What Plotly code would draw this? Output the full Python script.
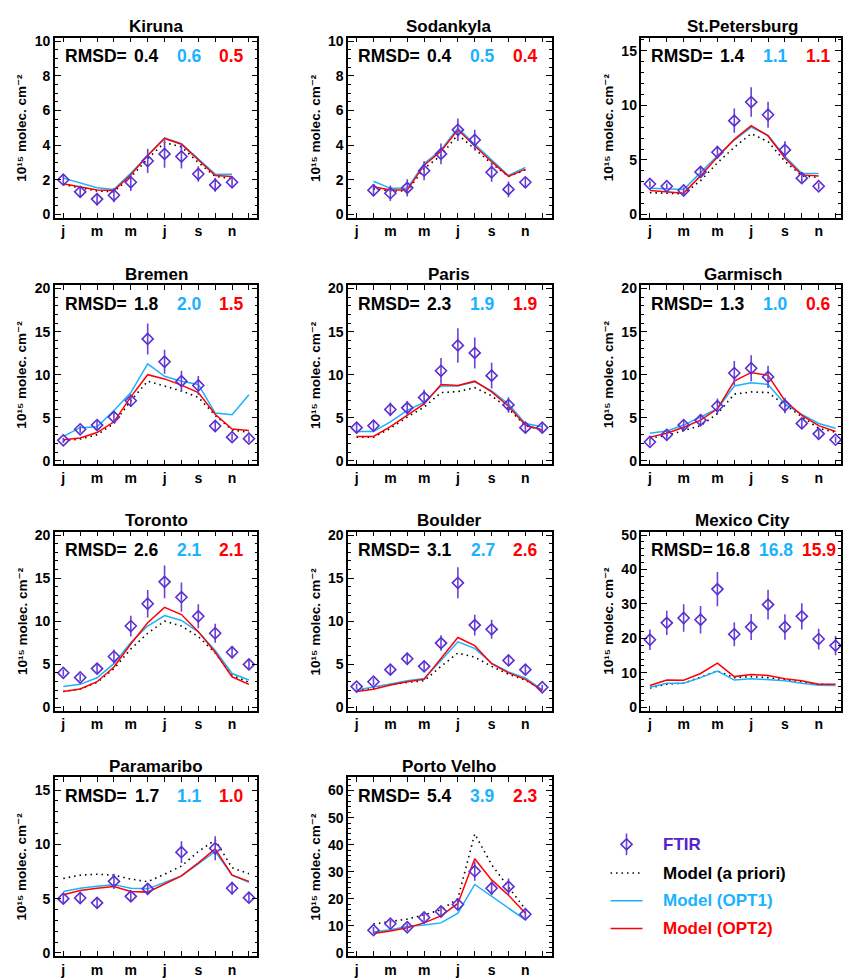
import plotly.graph_objects as go

# ---------------------------------------------------------------- data ----
months = list(range(1, 13))
label_months = [1, 3, 5, 7, 9, 11]
month_labels = ["j", "m", "m", "j", "s", "n"]

# Kiruna
kiruna_ftir = [2.0, 1.3, 0.88, 1.1, 1.85, 3.08, 3.49, 3.34, 2.33, 1.7, 1.85, None]
kiruna_err = [0.28, 0.33, 0.37, 0.4, 0.5, 0.7, 0.8, 0.7, 0.45, 0.4, 0.25, None]
kiruna_apriori = [1.72, 1.53, 1.35, 1.31, 2.15, 3.21, 4.14, 3.9, 2.99, 2.19, 2.06, None]
kiruna_opt1 = [2.09, 1.81, 1.53, 1.44, 2.37, 3.4, 4.42, 4.08, 3.19, 2.32, 2.32, None]
kiruna_opt2 = [1.76, 1.57, 1.4, 1.38, 2.28, 3.4, 4.38, 4.05, 3.15, 2.24, 2.19, None]
kiruna_rmsd = ["0.4", "0.6", "0.5"]

# Sodankyla
sodankyla_ftir = [None, 1.39, 1.22, 1.53, 2.52, 3.49, 4.88, 4.29, 2.43, 1.44, 1.85, None]
sodankyla_err = [None, 0.35, 0.45, 0.5, 0.55, 0.6, 0.65, 0.6, 0.55, 0.45, 0.3, None]
sodankyla_apriori = [None, 1.48, 1.35, 1.35, 2.65, 3.4, 4.6, 3.77, 2.93, 2.19, 2.56, None]
sodankyla_opt1 = [None, 1.91, 1.5, 1.5, 2.93, 3.71, 4.98, 4.05, 3.12, 2.24, 2.71, None]
sodankyla_opt2 = [None, 1.59, 1.4, 1.4, 2.84, 3.64, 4.88, 3.95, 3.04, 2.19, 2.61, None]
sodankyla_rmsd = ["0.4", "0.5", "0.4"]

# St.Petersburg
stpete_ftir = [2.8, 2.59, 2.2, 3.9, 5.71, 8.6, 10.3, 9.14, 5.92, 3.33, 2.59, None]
stpete_err = [0.3, 0.25, 0.3, 0.5, 0.6, 1.1, 1.35, 1.2, 0.8, 0.4, 0.3, None]
stpete_apriori = [2.0, 1.96, 1.9, 3.1, 4.73, 6.16, 7.41, 6.67, 4.88, 3.54, 3.39, None]
stpete_opt1 = [2.41, 2.35, 2.29, 3.84, 5.39, 6.82, 8.0, 7.26, 5.33, 3.78, 3.75, None]
stpete_opt2 = [2.2, 2.05, 1.96, 3.54, 5.27, 6.88, 8.15, 7.2, 5.18, 3.63, 3.54, None]
stpete_rmsd = ["1.4", "1.1", "1.1"]

# Bremen
bremen_ftir = [2.38, 3.66, 4.15, 5.09, 6.98, 14.15, 11.5, 9.25, 8.75, 4.04, 2.75, 2.57]
bremen_err = [0.3, 0.4, 0.5, 0.6, 0.7, 1.8, 1.4, 1.2, 1.1, 0.6, 0.4, 0.4]
bremen_apriori = [2.34, 2.53, 3.02, 4.34, 6.98, 9.25, 8.68, 8.11, 7.36, 5.28, 3.58, 3.32]
bremen_opt1 = [2.83, 3.85, 3.96, 5.85, 7.92, 11.25, 9.81, 9.25, 8.87, 5.55, 5.36, 7.66]
bremen_opt2 = [2.45, 2.64, 3.28, 4.53, 7.43, 10.0, 9.51, 8.79, 7.92, 5.4, 3.7, 3.51]
bremen_rmsd = ["1.8", "2.0", "1.5"]

# Paris
paris_ftir = [3.85, 4.08, 5.96, 6.15, 7.36, 10.45, 13.4, 12.53, 9.89, 6.49, 3.85, 3.85]
paris_err = [0.5, 0.55, 0.8, 0.8, 0.9, 1.5, 2.0, 1.8, 1.5, 0.9, 0.55, 0.5]
paris_apriori = [2.75, 2.75, 3.77, 5.09, 6.23, 7.92, 8.04, 8.49, 7.55, 6.04, 4.08, 3.58]
paris_opt1 = [3.4, 3.4, 4.53, 5.85, 6.79, 8.68, 8.68, 9.17, 8.11, 6.6, 4.34, 3.96]
paris_opt2 = [2.83, 2.83, 3.96, 5.28, 6.6, 8.87, 8.75, 9.25, 8.0, 6.34, 4.15, 3.58]
paris_rmsd = ["2.3", "1.9", "1.9"]

# Garmisch
garmisch_ftir = [2.19, 3.02, 4.15, 4.72, 6.34, 10.19, 10.75, 9.74, 6.42, 4.34, 3.13, 2.45]
garmisch_err = [0.4, 0.45, 0.6, 0.7, 0.9, 1.4, 1.5, 1.3, 0.9, 0.6, 0.45, 0.35]
garmisch_apriori = [2.64, 2.94, 3.51, 4.08, 5.47, 7.74, 8.0, 7.92, 6.49, 5.09, 3.77, 3.32]
garmisch_opt1 = [3.21, 3.47, 4.15, 5.09, 6.04, 8.68, 9.06, 8.87, 6.6, 5.4, 4.34, 3.77]
garmisch_opt2 = [2.75, 3.21, 3.89, 4.72, 6.04, 9.25, 10.26, 9.92, 6.98, 5.28, 4.08, 3.4]
garmisch_rmsd = ["1.3", "1.0", "0.6"]

# Toronto
toronto_ftir = [3.99, 3.46, 4.49, 5.89, 9.43, 12.02, 14.56, 12.78, 10.57, 8.59, 6.39, 4.98]
toronto_err = [0.4, 0.4, 0.6, 0.8, 1.2, 1.6, 1.9, 1.7, 1.4, 1.1, 0.7, 0.5]
toronto_apriori = [1.83, 2.13, 2.89, 4.49, 6.77, 8.59, 10.0, 9.43, 8.21, 6.31, 3.73, 2.89]
toronto_opt1 = [2.4, 2.66, 3.42, 5.06, 7.53, 9.43, 10.65, 10.08, 8.75, 6.58, 3.92, 3.16]
toronto_opt2 = [1.83, 2.13, 2.97, 4.68, 7.34, 9.81, 11.6, 10.76, 8.78, 6.39, 3.54, 2.66]
toronto_rmsd = ["2.6", "2.1", "2.1"]

# Boulder
boulder_ftir = [2.4, 2.97, 4.37, 5.63, 4.75, 7.45, 14.45, 9.54, 9.05, 5.44, 4.37, 2.32]
boulder_err = [0.3, 0.4, 0.5, 0.7, 0.5, 0.9, 1.8, 1.2, 1.1, 0.6, 0.5, 0.3]
boulder_apriori = [1.94, 2.21, 2.59, 2.89, 3.08, 4.75, 6.3, 5.82, 4.75, 3.84, 3.16, 2.02]
boulder_opt1 = [2.02, 2.32, 2.7, 3.08, 3.35, 5.44, 7.6, 6.84, 5.13, 4.11, 3.42, 2.02]
boulder_opt2 = [1.83, 2.09, 2.59, 2.97, 3.24, 5.63, 8.1, 7.15, 5.06, 3.99, 3.24, 1.94]
boulder_rmsd = ["3.1", "2.7", "2.6"]

# Mexico City
mexico_ftir = [19.6, 24.5, 25.9, 25.4, 34.3, 21.2, 23.3, 29.8, 23.3, 26.4, 19.8, 17.9]
mexico_err = [3.0, 3.5, 4.0, 4.0, 5.0, 3.5, 3.8, 4.3, 3.7, 3.8, 3.0, 2.8]
mexico_apriori = [5.6, 6.7, 7.0, 8.8, 10.5, 8.6, 8.9, 8.6, 7.9, 7.4, 6.7, 6.5]
mexico_opt1 = [5.8, 7.0, 7.0, 8.6, 10.5, 7.9, 8.3, 8.1, 7.7, 7.0, 6.4, 6.3]
mexico_opt2 = [6.3, 7.9, 7.85, 9.8, 12.8, 8.9, 9.5, 9.25, 8.3, 7.7, 6.7, 6.7]
mexico_rmsd = ["16.8", "16.8", "15.9"]

# Paramaribo
paramaribo_ftir = [5.0, 5.06, 4.61, 6.59, 5.21, 5.9, None, 9.28, None, 9.64, 5.96, 5.09]
paramaribo_err = [0.5, 0.5, 0.5, 0.7, 0.5, 0.5, None, 1.0, None, 1.1, 0.6, 0.5]
paramaribo_apriori = [6.86, 7.16, 7.25, 7.16, 6.8, 6.56, 7.25, 8.0, 9.34, 10.4, 7.84, 7.3]
paramaribo_opt1 = [5.66, 5.96, 6.14, 6.29, 5.96, 5.9, 6.5, 7.1, 8.2, 9.34, 7.16, 6.5]
paramaribo_opt2 = [5.36, 5.75, 5.96, 6.11, 5.66, 5.6, 6.35, 7.1, 8.3, 9.58, 7.16, 6.59]
paramaribo_rmsd = ["1.7", "1.1", "1.0"]

# Porto Velho
portovelho_ftir = [None, 8.4, 10.8, 9.5, 13.1, 15.3, 17.9, 30.2, 23.9, 24.5, 14.3, None]
portovelho_err = [None, 1.2, 1.5, 1.4, 1.6, 1.8, 2.0, 3.5, 2.6, 3.0, 1.5, None]
portovelho_apriori = [None, 10.7, 11.7, 12.5, 14.1, 15.9, 20.1, 44.0, 32.6, 24.3, 16.1, None]
portovelho_opt1 = [None, 7.7, 8.6, 9.8, 10.3, 11.1, 14.7, 25.3, 21.0, 16.8, 12.2, None]
portovelho_opt2 = [None, 7.2, 8.1, 9.3, 11.1, 13.7, 18.3, 34.8, 27.0, 21.3, 14.7, None]
portovelho_rmsd = ["5.4", "3.9", "2.3"]

stations = [
    ("Kiruna", kiruna_ftir, kiruna_err, kiruna_apriori, kiruna_opt1, kiruna_opt2, kiruna_rmsd, (-0.2, 10.2), 2, 0.5),
    ("Sodankyla", sodankyla_ftir, sodankyla_err, sodankyla_apriori, sodankyla_opt1, sodankyla_opt2, sodankyla_rmsd, (-0.2, 10.2), 2, 0.5),
    ("St.Petersburg", stpete_ftir, stpete_err, stpete_apriori, stpete_opt1, stpete_opt2, stpete_rmsd, (-0.3, 16.2), 5, 1),
    ("Bremen", bremen_ftir, bremen_err, bremen_apriori, bremen_opt1, bremen_opt2, bremen_rmsd, (-0.4, 20.4), 5, 1),
    ("Paris", paris_ftir, paris_err, paris_apriori, paris_opt1, paris_opt2, paris_rmsd, (-0.4, 20.4), 5, 1),
    ("Garmisch", garmisch_ftir, garmisch_err, garmisch_apriori, garmisch_opt1, garmisch_opt2, garmisch_rmsd, (-0.4, 20.4), 5, 1),
    ("Toronto", toronto_ftir, toronto_err, toronto_apriori, toronto_opt1, toronto_opt2, toronto_rmsd, (-0.4, 20.4), 5, 1),
    ("Boulder", boulder_ftir, boulder_err, boulder_apriori, boulder_opt1, boulder_opt2, boulder_rmsd, (-0.4, 20.4), 5, 1),
    ("Mexico City", mexico_ftir, mexico_err, mexico_apriori, mexico_opt1, mexico_opt2, mexico_rmsd, (-1.0, 51.0), 10, 2),
    ("Paramaribo", paramaribo_ftir, paramaribo_err, paramaribo_apriori, paramaribo_opt1, paramaribo_opt2, paramaribo_rmsd, (-0.3, 16.2), 5, 1),
    ("Porto Velho", portovelho_ftir, portovelho_err, portovelho_apriori, portovelho_opt1, portovelho_opt2, portovelho_rmsd, (-1.2, 65.0), 10, 2),
]

# --------------------------------------------------------------- style ----
W, H = 843, 979
FONT = "Liberation Sans, Arial, Helvetica, DejaVu Sans, sans-serif"
PURPLE = "#5a2ed0"
PURPLE_BAR = "#6b42d8"
BLUE = "#1ab2ff"
RED = "#ff0000"
DOTTED = "1.5px,4px"
Y_TITLE = "10\u00b9\u2075 molec. cm\u207b\u00b2"

col_px = [(55, 258), (349, 553), (643, 843)]
row_px = [(33, 215), (283, 464), (532, 713), (780, 961)]
px_per_month = 203 / 12


def paper_x(px):
    return px / W


def paper_y(py):
    return 1 - py / H


fig = go.Figure()
annotations = []
layout_axes = {}

for i, (name, ftir, err, apriori, opt1, opt2, rmsd, yrange, dtick, minor) in enumerate(stations):
    r, c = divmod(i, 3)
    n = i + 1
    xl, xr = col_px[c]
    yt, yb = row_px[r]
    xa = "x" if n == 1 else f"x{n}"
    ya = "y" if n == 1 else f"y{n}"
    common = dict(xaxis=xa, yaxis=ya, showlegend=False, hoverinfo="skip")

    fig.add_trace(go.Scatter(x=months, y=apriori, mode="lines",
                             line=dict(color="black", width=1.6, dash=DOTTED), **common))
    fig.add_trace(go.Scatter(x=months, y=opt1, mode="lines",
                             line=dict(color=BLUE, width=1.5), **common))
    fig.add_trace(go.Scatter(x=months, y=opt2, mode="lines",
                             line=dict(color=RED, width=1.5), **common))
    fig.add_trace(go.Scatter(
        x=months, y=ftir, mode="markers",
        marker=dict(symbol="diamond-open", size=8.5, color=PURPLE, line=dict(width=1.6, color=PURPLE)),
        error_y=dict(type="data", array=err, visible=True, color=PURPLE_BAR, thickness=1.6, width=0),
        **common))

    frame = dict(showline=True, linecolor="black", linewidth=1.5, mirror="allticks",
                 ticks="inside", tickcolor="black", tickwidth=1.3,
                 showgrid=False, zeroline=False, fixedrange=True)
    tick_font = dict(family=FONT, size=14, color="black", weight="bold")
    layout_axes["xaxis" if n == 1 else f"xaxis{n}"] = dict(
        domain=[paper_x(xl), paper_x(xr)], anchor=ya,
        range=[0.5, 0.5 + (xr - xl) / px_per_month],
        tickmode="array", tickvals=label_months, ticktext=month_labels, ticklen=5,
        minor=dict(tickmode="array", tickvals=months, ticks="inside", ticklen=5,
                   tickcolor="black", tickwidth=1.3),
        tickfont=tick_font,
        **frame)
    layout_axes["yaxis" if n == 1 else f"yaxis{n}"] = dict(
        domain=[paper_y(yb), paper_y(yt)], anchor=xa,
        range=list(yrange), tick0=0, dtick=dtick, ticklen=6,
        minor=dict(dtick=minor, tick0=0, ticks="inside", ticklen=3, tickcolor="black", tickwidth=1),
        tickfont=tick_font,
        **frame)

    # station title
    annotations.append(dict(text=name, xref="paper", yref="paper",
                            x=paper_x(xl + 101.5), y=paper_y(yt - 11),
                            xanchor="center", yanchor="middle", showarrow=False,
                            font=dict(family=FONT, size=17, color="black", weight="bold")))
    # y axis title
    annotations.append(dict(text=Y_TITLE, xref="paper", yref="paper",
                            x=paper_x(xl - 33), y=paper_y((yt + yb) / 2), textangle=-90,
                            xanchor="center", yanchor="middle", showarrow=False,
                            font=dict(family=FONT, size=13.5, color="black", weight="bold")))
    # RMSD row: wider values sit a little further right
    ry = paper_y(yt + 19)
    rfont = dict(family=FONT, size=17.5, weight="bold")
    annotations.append(dict(text="RMSD=", xref="paper", yref="paper", x=paper_x(xl + 8), y=ry,
                            xanchor="left", yanchor="middle", showarrow=False,
                            font=dict(color="black", **rfont)))
    for val, off, col in zip(rmsd, (106, 149, 192), ("black", BLUE, RED)):
        shift = 5 if len(val) > 3 else 0
        annotations.append(dict(text=val, xref="paper", yref="paper", x=paper_x(xl + off + shift), y=ry,
                                xanchor="right", yanchor="middle", showarrow=False,
                                font=dict(color=col, **rfont)))

# ------------------------------------------------------------- legend ----
# key panel in the free slot; its axes are measured in screen pixels
leg_line = (612, 644)
leg_marker_x = 628
leg_text_x = 663
leg_rows = [848, 877, 905, 933]
leg_common = dict(xaxis="x12", yaxis="y12", showlegend=False, hoverinfo="skip")

fig.add_trace(go.Scatter(
    x=[leg_marker_x], y=[leg_rows[0]], mode="markers",
    marker=dict(symbol="diamond-open", size=8.5, color=PURPLE, line=dict(width=1.6, color=PURPLE)),
    error_y=dict(type="data", array=[11], visible=True, color=PURPLE_BAR, thickness=1.6, width=0),
    **leg_common))
for row, col, dash in zip(leg_rows[1:], ("black", BLUE, RED), (DOTTED, "solid", "solid")):
    fig.add_trace(go.Scatter(x=list(leg_line), y=[row, row], mode="lines",
                             line=dict(color=col, width=1.5, dash=dash), **leg_common))
for row, label, col in zip(leg_rows, ("FTIR", "Model (a priori)", "Model (OPT1)", "Model (OPT2)"),
                           ("#5522cc", "black", BLUE, RED)):
    annotations.append(dict(text=label, xref="x12", yref="y12", x=leg_text_x, y=row,
                            xanchor="left", yanchor="middle", showarrow=False,
                            font=dict(family=FONT, size=17, color=col, weight="bold")))

layout_axes["xaxis12"] = dict(domain=[paper_x(580), 1.0], range=[580, 843], visible=False,
                              anchor="y12", fixedrange=True)
layout_axes["yaxis12"] = dict(domain=[paper_y(975), paper_y(800)], range=[975, 800], visible=False,
                              anchor="x12", fixedrange=True)

fig.update_layout(
    width=W, height=H,
    margin=dict(l=0, r=0, t=0, b=0),
    paper_bgcolor="white", plot_bgcolor="white",
    font=dict(family=FONT, color="black"),
    annotations=annotations,
    **layout_axes,
)

fig.write_html("out.html")
